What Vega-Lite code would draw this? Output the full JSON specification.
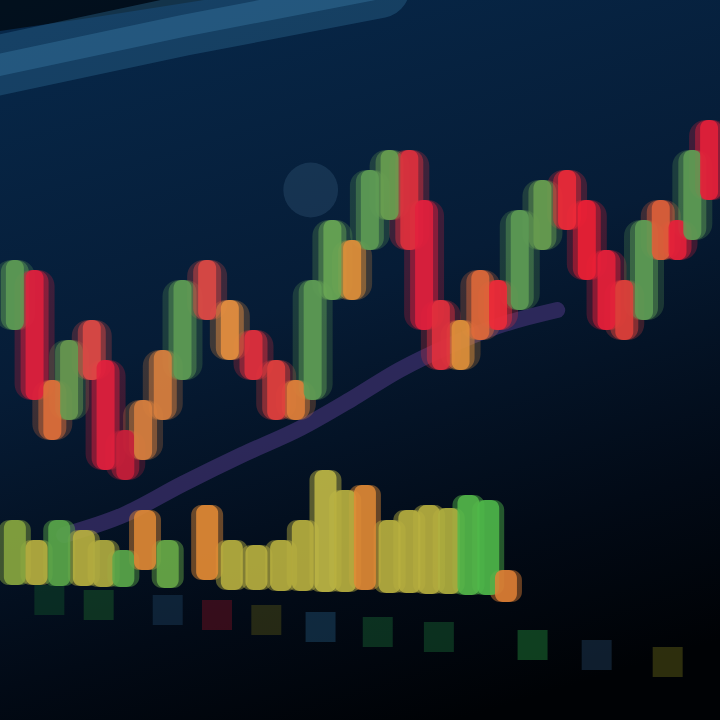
{
  "$schema": "https://vega.github.io/schema/vega-lite/v6.json",
  "width": 720,
  "height": 720,
  "autosize": {"type": "none"},
  "padding": 0,
  "background": "#041428",
  "config": {"view": {"stroke": null}},
  "datasets": {
    "bg": [{"x0": -30, "x1": 750, "y0": -30, "y1": 750}],
    "streak": [{"t": -20, "v": 652}, {"t": 180, "v": 694}, {"t": 380, "v": 732}],
    "corner": [{"t": -20, "v": 712}, {"t": 90, "v": 728}, {"t": 200, "v": 745}],
    "glow": [{"t": 310, "v": 530, "c": "#3a6585"}],
    "candles": [
      {"t": 10, "hi": 460, "lo": 390, "c": "#5f9d55"},
      {"t": 30, "hi": 450, "lo": 320, "c": "#e3203d"},
      {"t": 48, "hi": 340, "lo": 280, "c": "#e0703a"},
      {"t": 65, "hi": 380, "lo": 300, "c": "#6a9a50"},
      {"t": 88, "hi": 400, "lo": 340, "c": "#e04a45"},
      {"t": 102, "hi": 360, "lo": 250, "c": "#e3203d"},
      {"t": 122, "hi": 290, "lo": 240, "c": "#c81e3a"},
      {"t": 140, "hi": 320, "lo": 260, "c": "#d9803e"},
      {"t": 160, "hi": 370, "lo": 300, "c": "#d9803e"},
      {"t": 180, "hi": 440, "lo": 340, "c": "#5f9d55"},
      {"t": 205, "hi": 460, "lo": 400, "c": "#e04a45"},
      {"t": 228, "hi": 420, "lo": 360, "c": "#e89040"},
      {"t": 252, "hi": 390, "lo": 340, "c": "#e3303d"},
      {"t": 275, "hi": 360, "lo": 300, "c": "#e3403d"},
      {"t": 295, "hi": 340, "lo": 300, "c": "#e0803a"},
      {"t": 312, "hi": 440, "lo": 320, "c": "#5f9d55"},
      {"t": 332, "hi": 500, "lo": 420, "c": "#6aa855"},
      {"t": 352, "hi": 480, "lo": 420, "c": "#e0903a"},
      {"t": 370, "hi": 550, "lo": 470, "c": "#5f9d55"},
      {"t": 390, "hi": 570, "lo": 500, "c": "#6aa050"},
      {"t": 410, "hi": 570, "lo": 470, "c": "#e0303d"},
      {"t": 425, "hi": 520, "lo": 390, "c": "#e3203d"},
      {"t": 442, "hi": 420, "lo": 350, "c": "#e3303d"},
      {"t": 462, "hi": 400, "lo": 350, "c": "#e0903a"},
      {"t": 482, "hi": 450, "lo": 380, "c": "#e06a3a"},
      {"t": 500, "hi": 440, "lo": 390, "c": "#ee2a38"},
      {"t": 522, "hi": 510, "lo": 410, "c": "#5f9d55"},
      {"t": 545, "hi": 540, "lo": 470, "c": "#6aa050"},
      {"t": 570, "hi": 550, "lo": 490, "c": "#f02a38"},
      {"t": 590, "hi": 520, "lo": 440, "c": "#ee2035"},
      {"t": 610, "hi": 470, "lo": 390, "c": "#e8203a"},
      {"t": 628, "hi": 440, "lo": 380, "c": "#e0403a"},
      {"t": 648, "hi": 500, "lo": 400, "c": "#5f9d55"},
      {"t": 665, "hi": 520, "lo": 460, "c": "#e0603a"},
      {"t": 682, "hi": 500, "lo": 460, "c": "#e8203a"},
      {"t": 697, "hi": 570, "lo": 480, "c": "#5f9d55"},
      {"t": 714, "hi": 600, "lo": 520, "c": "#e8203a"}
    ],
    "ma": [
      {"t": 60, "v": 185}, {"t": 120, "v": 205}, {"t": 180, "v": 236},
      {"t": 240, "v": 265}, {"t": 300, "v": 292}, {"t": 350, "v": 320},
      {"t": 400, "v": 350}, {"t": 450, "v": 374}, {"t": 500, "v": 394},
      {"t": 560, "v": 410}
    ],
    "volume": [
      {"t": 10, "top": 200, "base": 135, "c": "#8aa840"},
      {"t": 32, "top": 180, "base": 135, "c": "#b8b040"},
      {"t": 55, "top": 200, "base": 134, "c": "#5aa84a"},
      {"t": 80, "top": 190, "base": 134, "c": "#b8b040"},
      {"t": 100, "top": 180, "base": 133, "c": "#b0ac40"},
      {"t": 120, "top": 170, "base": 133, "c": "#5aa84a"},
      {"t": 142, "top": 210, "base": 150, "c": "#e08a35"},
      {"t": 165, "top": 180, "base": 132, "c": "#6aac48"},
      {"t": 205, "top": 215, "base": 140, "c": "#e58c35"},
      {"t": 230, "top": 180, "base": 130, "c": "#b8b040"},
      {"t": 255, "top": 175, "base": 130, "c": "#b8b040"},
      {"t": 280, "top": 180, "base": 129, "c": "#b8b040"},
      {"t": 302, "top": 200, "base": 129, "c": "#b8b040"},
      {"t": 325, "top": 250, "base": 128, "c": "#c0b845"},
      {"t": 345, "top": 230, "base": 128, "c": "#b8b040"},
      {"t": 365, "top": 235, "base": 130, "c": "#e08a35"},
      {"t": 390, "top": 200, "base": 127, "c": "#b8b040"},
      {"t": 410, "top": 210, "base": 127, "c": "#b8b040"},
      {"t": 430, "top": 215, "base": 126, "c": "#b8b040"},
      {"t": 450, "top": 212, "base": 126, "c": "#b0b040"},
      {"t": 470, "top": 225, "base": 125, "c": "#55b84a"},
      {"t": 490, "top": 220, "base": 125, "c": "#4fb84a"},
      {"t": 508, "top": 150, "base": 118, "c": "#e08035"}
    ],
    "labels": [
      {"t": 45, "v": 120, "c": "#0f4a2a"},
      {"t": 95, "v": 115, "c": "#1a5a2a"},
      {"t": 165, "v": 110, "c": "#1a3a55"},
      {"t": 215, "v": 105, "c": "#6a1020"},
      {"t": 265, "v": 100, "c": "#4a4a15"},
      {"t": 320, "v": 93, "c": "#1e4a6a"},
      {"t": 378, "v": 88, "c": "#155a30"},
      {"t": 440, "v": 83, "c": "#155a30"},
      {"t": 535, "v": 75, "c": "#1e7a35"},
      {"t": 600, "v": 65, "c": "#1e3a55"},
      {"t": 672, "v": 58, "c": "#5a5a15"}
    ]
  },
  "layer": [
    {
      "data": {"name": "bg"},
      "mark": {
        "type": "rect",
        "color": {
          "gradient": "linear", "x1": 0.2, "y1": 0, "x2": 0.5, "y2": 1,
          "stops": [
            {"offset": 0, "color": "#07284a"},
            {"offset": 0.45, "color": "#061c36"},
            {"offset": 0.8, "color": "#020a16"},
            {"offset": 1, "color": "#000205"}
          ]
        }
      },
      "encoding": {
        "x": {"field": "x0", "type": "quantitative", "scale": {"domain": [0, 720], "nice": false, "zero": false}, "axis": null},
        "x2": {"field": "x1"},
        "y": {"field": "y0", "type": "quantitative", "scale": {"domain": [0, 720], "nice": false, "zero": false}, "axis": null},
        "y2": {"field": "y1"}
      }
    },
    {
      "data": {"name": "corner"},
      "mark": {"type": "line", "color": "#000000", "strokeWidth": 50, "opacity": 0.6, "strokeCap": "round"},
      "encoding": {
        "x": {"field": "t", "type": "quantitative"},
        "y": {"field": "v", "type": "quantitative"}
      }
    },
    {
      "data": {"name": "streak"},
      "mark": {"type": "line", "color": "#2d6890", "strokeWidth": 60, "opacity": 0.4, "strokeCap": "round"},
      "encoding": {
        "x": {"field": "t", "type": "quantitative"},
        "y": {"field": "v", "type": "quantitative"}
      }
    },
    {
      "data": {"name": "streak"},
      "mark": {"type": "line", "color": "#3a7aa5", "strokeWidth": 22, "opacity": 0.4, "strokeCap": "round"},
      "encoding": {
        "x": {"field": "t", "type": "quantitative"},
        "y": {"field": "v", "type": "quantitative"}
      }
    },
    {
      "data": {"name": "glow"},
      "mark": {"type": "point", "filled": true, "shape": "circle", "size": 3000, "opacity": 0.3},
      "encoding": {
        "x": {"field": "t", "type": "quantitative"},
        "y": {"field": "v", "type": "quantitative"},
        "color": {"field": "c", "type": "nominal", "scale": null}
      }
    },
    {
      "data": {"name": "ma"},
      "mark": {"type": "line", "color": "#3a2f6a", "strokeWidth": 16, "opacity": 0.75, "interpolate": "monotone", "strokeCap": "round"},
      "encoding": {
        "x": {"field": "t", "type": "quantitative"},
        "y": {"field": "v", "type": "quantitative"}
      }
    },
    {
      "data": {"name": "labels"},
      "mark": {"type": "point", "filled": true, "shape": "square", "size": 900, "opacity": 0.5},
      "encoding": {
        "x": {"field": "t", "type": "quantitative"},
        "y": {"field": "v", "type": "quantitative"},
        "color": {"field": "c", "type": "nominal", "scale": null}
      }
    },
    {
      "data": {"name": "volume"},
      "mark": {"type": "bar", "size": 32, "opacity": 0.45, "cornerRadius": 10},
      "encoding": {
        "x": {"field": "t", "type": "quantitative"},
        "y": {"field": "top", "type": "quantitative"},
        "y2": {"field": "base"},
        "color": {"field": "c", "type": "nominal", "scale": null}
      }
    },
    {
      "data": {"name": "volume"},
      "mark": {"type": "bar", "size": 22, "opacity": 0.85, "cornerRadius": 8},
      "encoding": {
        "x": {"field": "t", "type": "quantitative"},
        "y": {"field": "top", "type": "quantitative"},
        "y2": {"field": "base"},
        "color": {"field": "c", "type": "nominal", "scale": null}
      }
    },
    {
      "data": {"name": "candles"},
      "mark": {"type": "bar", "size": 40, "opacity": 0.25, "cornerRadius": 16},
      "encoding": {
        "x": {"field": "t", "type": "quantitative"},
        "y": {"field": "hi", "type": "quantitative"},
        "y2": {"field": "lo"},
        "color": {"field": "c", "type": "nominal", "scale": null}
      }
    },
    {
      "data": {"name": "candles"},
      "mark": {"type": "bar", "size": 28, "opacity": 0.45, "cornerRadius": 12},
      "encoding": {
        "x": {"field": "t", "type": "quantitative"},
        "y": {"field": "hi", "type": "quantitative"},
        "y2": {"field": "lo"},
        "color": {"field": "c", "type": "nominal", "scale": null}
      }
    },
    {
      "data": {"name": "candles"},
      "mark": {"type": "bar", "size": 18, "opacity": 0.85, "cornerRadius": 8},
      "encoding": {
        "x": {"field": "t", "type": "quantitative"},
        "y": {"field": "hi", "type": "quantitative"},
        "y2": {"field": "lo"},
        "color": {"field": "c", "type": "nominal", "scale": null}
      }
    }
  ]
}
